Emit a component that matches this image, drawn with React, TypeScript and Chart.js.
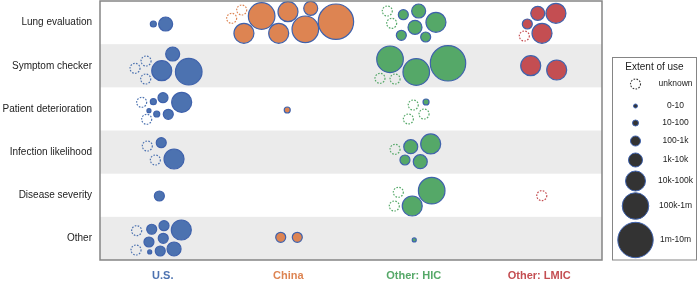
import React, { useEffect, useRef } from "react";
import { Chart, registerables } from "chart.js";

Chart.register(...registerables);

const rows = [
  "Lung evaluation",
  "Symptom checker",
  "Patient deterioration",
  "Infection likelihood",
  "Disease severity",
  "Other",
];
const regions = ["U.S.", "China", "Other: HIC", "Other: LMIC"];
const regionColors = ["#4C72B0", "#DD8452", "#55A868", "#C44E52"];
const sizeLabels = ["unknown", "0-10", "10-100", "100-1k", "1k-10k", "10k-100k", "100k-1m", "1m-10m"];
const sizeRadii = [5, 2, 3, 5, 7, 10, 13.3, 17.7];

// each bubble: [x, y, size class]; x in column units (column i spans i..i+1), y in row units (row j spans j..j+1)
const usBubbles: number[][] = [
  [0.425, 0.533, 2], [0.523, 0.533, 4],
  [0.279, 1.559, 0], [0.367, 1.39, 0], [0.364, 1.807, 0], [0.579, 1.228, 4], [0.492, 1.615, 5], [0.707, 1.638, 6],
  [0.332, 2.347, 0], [0.425, 2.333, 2], [0.502, 2.24, 3], [0.651, 2.347, 5], [0.39, 2.541, 1], [0.452, 2.618, 2], [0.544, 2.625, 3], [0.372, 2.74, 0],
  [0.377, 3.359, 0], [0.488, 3.282, 3], [0.441, 3.683, 0], [0.59, 3.66, 5],
  [0.473, 4.517, 3],
  [0.292, 5.321, 0], [0.412, 5.288, 3], [0.51, 5.205, 3], [0.648, 5.305, 5], [0.39, 5.583, 3], [0.504, 5.497, 3], [0.287, 5.768, 0], [0.396, 5.814, 1], [0.48, 5.791, 3], [0.59, 5.745, 4],
];
const chinaBubbles: number[][] = [
  [1.129, 0.208, 0], [1.049, 0.401, 0], [1.288, 0.347, 6], [1.147, 0.748, 5], [1.498, 0.248, 5], [1.424, 0.748, 5], [1.679, 0.169, 4], [1.636, 0.656, 6], [1.88, 0.48, 7],
  [1.492, 2.525, 2],
  [1.44, 5.474, 3], [1.572, 5.474, 3],
];
const hicBubbles: number[][] = [
  [2.289, 0.232, 0], [2.324, 0.517, 0], [2.417, 0.317, 3], [2.539, 0.232, 4], [2.51, 0.609, 4], [2.677, 0.493, 5], [2.401, 0.795, 3], [2.595, 0.834, 3],
  [2.311, 1.35, 6], [2.52, 1.645, 6], [2.773, 1.443, 7], [2.231, 1.791, 0], [2.351, 1.807, 0],
  [2.496, 2.409, 0], [2.598, 2.34, 2], [2.582, 2.618, 0], [2.457, 2.733, 0],
  [2.351, 3.435, 0], [2.476, 3.375, 4], [2.635, 3.312, 5], [2.43, 3.683, 3], [2.552, 3.722, 4],
  [2.377, 4.431, 0], [2.345, 4.749, 0], [2.488, 4.749, 5], [2.643, 4.394, 6],
  [2.504, 5.536, 1],
];
const lmicBubbles: number[][] = [
  [3.488, 0.285, 4], [3.633, 0.285, 5], [3.405, 0.533, 3], [3.522, 0.748, 5], [3.381, 0.811, 0],
  [3.432, 1.499, 5], [3.639, 1.598, 5],
  [3.52, 4.51, 0],
];
const allBubbles = [usBubbles, chinaBubbles, hicBubbles, lmicBubbles];

const FONT = "'Liberation Sans', Arial, Helvetica, sans-serif";
const EDGE = "#3F62AC";
const legendYs = [84, 106, 123, 141, 160, 181, 206, 240];

const customPlugin = {
  id: "rowsFrameLegend",
  beforeDatasetsDraw(chart: any) {
    const { ctx, chartArea: a, scales } = chart;
    const y = scales.y;
    ctx.save();
    ctx.fillStyle = "#EBEBEB";
    for (let i = 1; i < rows.length; i += 2) {
      const y0 = y.getPixelForValue(i);
      const y1 = y.getPixelForValue(i + 1);
      ctx.fillRect(a.left, y0, a.right - a.left, y1 - y0);
    }
    ctx.restore();
  },
  beforeDatasetDraw(chart: any, args: any) {
    const ds = chart.data.datasets[args.index];
    chart.ctx.save();
    if (ds.unknown) chart.ctx.setLineDash([1.6, 1.4]);
  },
  afterDatasetDraw(chart: any) {
    chart.ctx.restore();
  },
  afterDatasetsDraw(chart: any) {
    const { ctx, chartArea: a } = chart;
    ctx.save();
    ctx.strokeStyle = "#858585";
    ctx.lineWidth = 1.5;
    ctx.strokeRect(a.left, a.top, a.right - a.left, a.bottom - a.top);
    ctx.restore();
  },
  afterDraw(chart: any) {
    const ctx = chart.ctx;
    const boxL = chart.chartArea.right + 10.5;
    const boxR = chart.width - 3.5;
    ctx.save();
    ctx.strokeStyle = "#858585";
    ctx.lineWidth = 1;
    ctx.strokeRect(boxL, 57.5, boxR - boxL, chart.chartArea.bottom - 57.5);
    ctx.fillStyle = "#222";
    ctx.textAlign = "center";
    ctx.textBaseline = "middle";
    ctx.font = `10px ${FONT}`;
    ctx.fillText("Extent of use", (boxL + boxR) / 2, 67);
    const cx = boxL + 23;
    const tx = boxL + 63;
    sizeLabels.forEach((lab, i) => {
      const cy = legendYs[i];
      ctx.beginPath();
      ctx.arc(cx, cy, sizeRadii[i], 0, Math.PI * 2);
      if (i === 0) {
        ctx.setLineDash([1.6, 1.4]);
        ctx.strokeStyle = "#333";
        ctx.lineWidth = 1.1;
        ctx.stroke();
        ctx.setLineDash([]);
      } else {
        ctx.fillStyle = "#333";
        ctx.fill();
        ctx.strokeStyle = EDGE;
        ctx.lineWidth = 1;
        ctx.stroke();
      }
      ctx.fillStyle = "#222";
      ctx.font = `8.5px ${FONT}`;
      ctx.fillText(lab, tx, cy);
    });
    ctx.restore();
  },
};

export default function App() {
  const ref = useRef<HTMLCanvasElement | null>(null);
  useEffect(() => {
    if (!ref.current) return;
    const datasets: any[] = [];
    allBubbles.forEach((list, i) => {
      datasets.push({
        label: regions[i] + " unknown",
        unknown: true,
        data: list.filter((b) => b[2] === 0).map((b) => ({ x: b[0], y: b[1], r: sizeRadii[0] })),
        backgroundColor: "rgba(0,0,0,0)",
        borderColor: regionColors[i],
        borderWidth: 1.2,
        clip: false,
      });
      datasets.push({
        label: regions[i],
        data: list.filter((b) => b[2] > 0).map((b) => ({ x: b[0], y: b[1], r: sizeRadii[b[2]] })),
        backgroundColor: regionColors[i],
        borderColor: EDGE,
        borderWidth: 1.2,
        clip: false,
      });
    });
    const chart = new Chart(ref.current, {
      type: "bubble",
      data: { datasets },
      plugins: [customPlugin],
      options: {
        animation: false,
        responsive: false,
        events: [],
        layout: { autoPadding: false, padding: { left: 0, right: 98, top: 1, bottom: 0 } },
        plugins: { legend: { display: false }, tooltip: { enabled: false } },
        scales: {
          x: {
            type: "linear",
            min: 0,
            max: regions.length,
            grid: { display: false, drawTicks: false },
            border: { display: false },
            afterBuildTicks: (s: any) => {
              s.ticks = regions.map((_, i) => ({ value: i + 0.5 }));
            },
            afterFit: (s: any) => {
              s.height = 21;
              s.paddingLeft = 0;
              s.paddingRight = 0;
              s.paddingTop = 0;
              s.paddingBottom = 0;
            },
            ticks: {
              autoSkip: false,
              maxRotation: 0,
              padding: 9,
              font: { family: FONT, size: 11, weight: "bold" },
              color: (c: any) => regionColors[c.index] || "#222",
              callback: (_v: any, i: number) => regions[i],
            },
          },
          y: {
            type: "linear",
            min: 0,
            max: rows.length,
            reverse: true,
            grid: { display: false, drawTicks: false },
            border: { display: false },
            afterBuildTicks: (s: any) => {
              s.ticks = rows.map((_, i) => ({ value: i + 0.5 }));
            },
            afterFit: (s: any) => {
              s.width = 100;
              s.paddingLeft = 0;
              s.paddingRight = 0;
              s.paddingTop = 0;
              s.paddingBottom = 0;
            },
            ticks: {
              autoSkip: false,
              padding: 8,
              font: { family: FONT, size: 10 },
              color: "#222",
              callback: (_v: any, i: number) => rows[i],
            },
          },
        },
      } as any,
    });
    return () => chart.destroy();
  }, []);
  return (
    <div style={{ position: "absolute", left: 0, top: 0, width: 700, height: 281, background: "#fff" }}>
      <canvas ref={ref} width={700} height={281} style={{ display: "block", width: 700, height: 281 }} />
    </div>
  );
}
